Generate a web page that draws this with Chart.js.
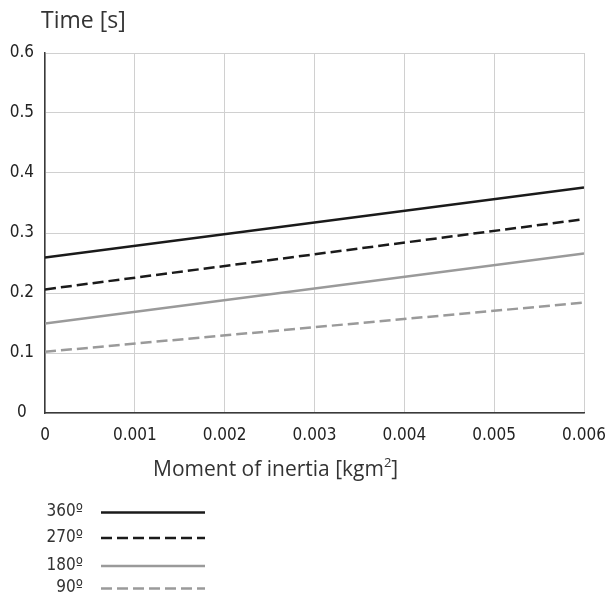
<!DOCTYPE html>
<html>
<head>
<meta charset="utf-8">
<script src="https://cdn.jsdelivr.net/npm/chart.js@4.4.1/dist/chart.umd.min.js"></script>
<style>
  html, body { margin: 0; padding: 0; background: #ffffff; }
  #wrap { width: 609px; height: 595px; }
</style>
</head>
<body>
<div id="wrap"><canvas id="timeChart"></canvas></div>
<script>
// values
const inertia = [0, 0.006];
const time360 = [0.259, 0.376];
const time270 = [0.206, 0.323];
const time180 = [0.149, 0.266];
const time90 = [0.102, 0.184];
const seriesLabels = ['360º', '270º', '180º', '90º'];
const xTickLabels = ['0', '0.001', '0.002', '0.003', '0.004', '0.005', '0.006'];
const yTickLabels = ['0', '0.1', '0.2', '0.3', '0.4', '0.5', '0.6'];

const narrow = '"Liberation Sans Narrow", "DejaVu Sans Condensed", "Arial Narrow", "Liberation Sans", sans-serif';
const titleFont = '"Open Sans", "Noto Sans", sans-serif';

function toPoints(values) {
    return values.map((v, i) => ({ x: inertia[i], y: v }));
}

const styles = [
    { color: '#1a1a1a', dash: [] },
    { color: '#1a1a1a', dash: [11, 5] },
    { color: '#9a9a9a', dash: [] },
    { color: '#9a9a9a', dash: [11, 5] }
];

const datasets = [time360, time270, time180, time90].map((vals, i) => ({
    label: seriesLabels[i],
    data: toPoints(vals),
    borderColor: styles[i].color,
    borderDash: styles[i].dash,
    borderWidth: 2.5,
    pointRadius: 0,
    fill: false,
    tension: 0
}));

// axis titles and the legend under the chart
const extras = {
    id: 'extras',
    afterDraw(chart) {
        const c = chart.ctx;
        c.save();
        c.fillStyle = '#333333';
        c.font = '23px ' + titleFont;
        c.textBaseline = 'middle';
        c.textAlign = 'left';
        c.fillText('Time [s]', 41, 21);

        // x title with raised 2
        const main = 'Moment of inertia [kgm';
        c.font = '21px ' + titleFont;
        const w1 = c.measureText(main).width;
        c.font = '13px ' + titleFont;
        const w2 = c.measureText('2').width;
        let x = 153;
        const y = 470;
        c.font = '21px ' + titleFont;
        c.fillText(main, x, y);
        x += w1;
        c.font = '13px ' + titleFont;
        c.fillText('2', x, y - 7);
        x += w2;
        c.font = '21px ' + titleFont;
        c.fillText(']', x, y);

        // legend
        const rows = [512, 537.5, 565.5, 588];
        c.font = '17px ' + narrow;
        c.textAlign = 'right';
        chart.data.datasets.forEach((ds, i) => {
            c.fillStyle = '#333333';
            c.fillText(ds.label, 83, rows[i]);
            c.beginPath();
            c.strokeStyle = ds.borderColor;
            c.lineWidth = 2.5;
            c.setLineDash(ds.borderDash);
            c.moveTo(101, rows[i] + 0.5);
            c.lineTo(205, rows[i] + 0.5);
            c.stroke();
        });
        c.restore();
    }
};

new Chart(document.getElementById('timeChart'), {
    type: 'line',
    data: { datasets: datasets },
    options: {
        responsive: true,
        maintainAspectRatio: false,
        animation: false,
        layout: { padding: { top: 53, right: 25, left: 0, bottom: 0 } },
        plugins: {
            legend: { display: false },
            tooltip: { enabled: false }
        },
        scales: {
            x: {
                type: 'linear',
                min: 0,
                max: 0.006,
                afterFit(scale) {
                    scale.height = 182;
                    scale.paddingRight = 0;
                },
                afterBuildTicks(scale) {
                    scale.ticks = xTickLabels.map(t => ({ value: parseFloat(t) }));
                },
                grid: { color: '#d0d0d0', lineWidth: 1, drawTicks: false },
                border: { color: '#3a3a3a', width: 1.5 },
                ticks: {
                    padding: 12,
                    maxRotation: 0,
                    autoSkip: false,
                    color: '#222222',
                    font: { size: 17, family: narrow },
                    callback: (v, i) => xTickLabels[i]
                }
            },
            y: {
                type: 'linear',
                min: 0,
                max: 0.6,
                afterFit(scale) { scale.width = 45; },
                afterBuildTicks(scale) {
                    scale.ticks = yTickLabels.map(t => ({ value: parseFloat(t) }));
                },
                grid: { color: '#d0d0d0', lineWidth: 1, drawTicks: false },
                border: { color: '#3a3a3a', width: 1.5 },
                ticks: {
                    padding: 11,
                    crossAlign: 'center',
                    color: '#222222',
                    font: { size: 17, family: narrow },
                    callback: (v, i) => yTickLabels[i]
                }
            }
        }
    },
    plugins: [extras]
});
</script>
</body>
</html>
